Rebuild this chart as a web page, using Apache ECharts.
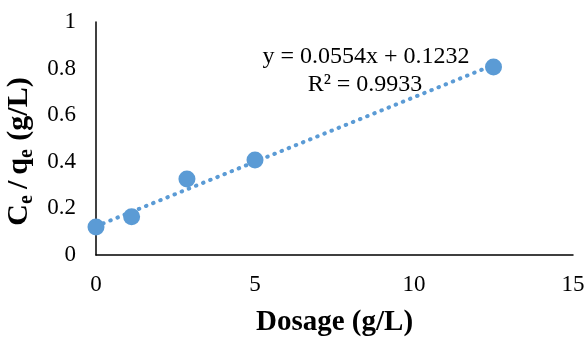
<!DOCTYPE html>
<html>
<head>
<meta charset="utf-8">
<script src="https://cdn.jsdelivr.net/npm/echarts@6/dist/echarts.min.js"></script>
<style>
  html, body { margin: 0; padding: 0; background: #fff; }
  #main { width: 587px; height: 343px; }
</style>
</head>
<body>
<div id="main"></div>
<script>
var chartDom = document.getElementById('main');
var myChart = echarts.init(chartDom);
var option;

// measured points
var dosage = [0, 1.12, 2.86, 5, 12.5];
var ceqe = [0.12, 0.164, 0.326, 0.408, 0.807];

// linear trendline from the shown equation
var slope = 0.0554;
var intercept = 0.1232;
var trendX = [0, 12.5];

var points = dosage.map(function (x, i) { return [x, ceqe[i]]; });
var trend = trendX.map(function (x) { return [x, slope * x + intercept]; });

var font = 'Liberation Serif, Times New Roman, serif';

option = {
  animation: false,
  backgroundColor: '#fff',
  grid: { left: 96, right: 14, top: 22, bottom: 88, outerBoundsMode: 'none', containLabel: false },
  xAxis: {
    type: 'value',
    min: 0,
    max: 15,
    interval: 5,
    splitLine: { show: false },
    axisLine: { lineStyle: { color: '#000', width: 1.5 } },
    axisTick: { show: false },
    axisLabel: { color: '#000', fontFamily: font, fontSize: 23, margin: 18 },
    name: 'Dosage (g/L)',
    nameLocation: 'middle',
    nameGap: 53,
    nameTextStyle: { color: '#000', fontFamily: font, fontSize: 29, fontWeight: 'bold' }
  },
  yAxis: {
    type: 'value',
    min: 0,
    max: 1,
    interval: 0.2,
    splitLine: { show: false },
    axisLine: { show: true, lineStyle: { color: '#000', width: 1.5 } },
    axisTick: { show: false },
    axisLabel: { color: '#000', fontFamily: font, fontSize: 23, margin: 20 },
    name: '{b|C}{s|e}{sl|/}{b|q}{s|e}{b| (g/L)}',
    nameLocation: 'middle',
    nameRotate: 90,
    nameGap: 57,
    nameTextStyle: {
      padding: [0, 26, 0, 0],
      rich: {
        b: { color: '#000', fontFamily: font, fontSize: 30, fontWeight: 'bold' },
        sl: { color: '#000', fontFamily: font, fontSize: 30, fontWeight: 'bold', padding: [0, 6, 0, 5] },
        s: { color: '#000', fontFamily: font, fontSize: 20, fontWeight: 'bold', padding: [14, 1, 0, 0] }
      }
    }
  },
  graphic: [
    {
      type: 'text',
      x: 366,
      y: 57,
      style: {
        text: 'y = 0.0554x + 0.1232',
        fill: '#000',
        font: '24px ' + font,
        textAlign: 'center',
        textVerticalAlign: 'middle'
      }
    },
    {
      type: 'text',
      x: 365,
      y: 85,
      style: {
        text: 'R² = 0.9933',
        fill: '#000',
        font: '24px ' + font,
        textAlign: 'center',
        textVerticalAlign: 'middle'
      }
    }
  ],
  series: [
    {
      type: 'line',
      data: trend,
      symbol: 'none',
      lineStyle: { color: '#5B9BD5', width: 4, type: [0.5, 7.2], cap: 'round' },
      z: 1
    },
    {
      type: 'scatter',
      data: points,
      symbolSize: 17,
      itemStyle: { color: '#5B9BD5', opacity: 1 },
      z: 2
    }
  ]
};

option && myChart.setOption(option);
</script>
</body>
</html>
